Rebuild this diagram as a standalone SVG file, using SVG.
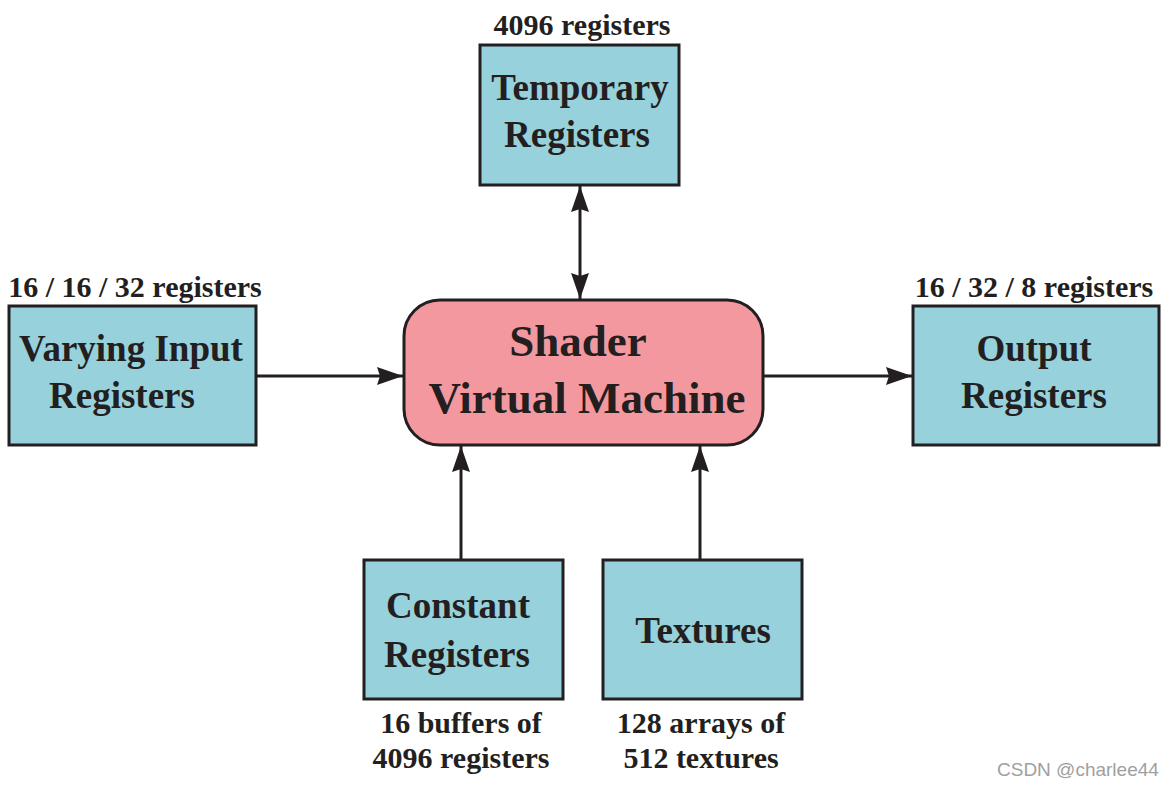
<svg xmlns="http://www.w3.org/2000/svg" width="1172" height="785" viewBox="0 0 1172 785">
<defs>
<marker id="ah" viewBox="0 0 26 18" refX="26" refY="9" markerWidth="26" markerHeight="18" markerUnits="userSpaceOnUse" orient="auto-start-reverse">
<path d="M0,0 L26,9 L0,18 L3,9 Z" fill="#231f20"/>
</marker>
<style>
.box{fill:#97d1db;stroke:#231f20;stroke-width:3}
.vm{fill:#f3989f;stroke:#231f20;stroke-width:3}
.t{font-family:"Liberation Serif","Times New Roman",serif;font-weight:bold;fill:#231f20;text-anchor:middle}
.big{font-size:37px}
.vmt{font-size:45px}
.lbl{font-size:30px}
.c{stroke:#231f20;stroke-width:3;fill:none}
</style>
</defs>
<rect width="1172" height="785" fill="#ffffff"/>
<g id="connectors">
<line class="c" x1="580" y1="186" x2="580" y2="299" marker-start="url(#ah)" marker-end="url(#ah)"/>
<line class="c" x1="257" y1="376" x2="403" y2="376" marker-end="url(#ah)"/>
<line class="c" x1="764" y1="376" x2="912" y2="376" marker-end="url(#ah)"/>
<line class="c" x1="461" y1="559" x2="461" y2="446" marker-end="url(#ah)"/>
<line class="c" x1="700" y1="559" x2="700" y2="446" marker-end="url(#ah)"/>
</g>
<g id="temporary">
<text class="t lbl" x="582" y="35">4096 registers</text>
<rect class="box" x="480" y="45" width="199" height="140"/>
<text class="t big" x="580" y="100">Temporary</text>
<text class="t big" x="577" y="147">Registers</text>
</g>
<g id="shader">
<rect class="vm" x="404" y="300" width="359" height="145" rx="36" ry="36"/>
<text class="t vmt" x="578" y="356">Shader</text>
<text class="t vmt" x="587" y="413">Virtual Machine</text>
</g>
<g id="varying">
<text class="t lbl" x="135" y="297">16 / 16 / 32 registers</text>
<rect class="box" x="9" y="306" width="247" height="139"/>
<text class="t big" x="131" y="361">Varying Input</text>
<text class="t big" x="122" y="408">Registers</text>
</g>
<g id="output">
<text class="t lbl" x="1034" y="297">16 / 32 / 8 registers</text>
<rect class="box" x="913" y="306" width="246" height="139"/>
<text class="t big" x="1034" y="361">Output</text>
<text class="t big" x="1034" y="408">Registers</text>
</g>
<g id="constant">
<rect class="box" x="364" y="560" width="199" height="139"/>
<text class="t big" x="458" y="618">Constant</text>
<text class="t big" x="457" y="667">Registers</text>
<text class="t lbl" x="461" y="733">16 buffers of</text>
<text class="t lbl" x="461" y="768">4096 registers</text>
</g>
<g id="textures">
<rect class="box" x="603" y="560" width="199" height="139"/>
<text class="t big" x="703" y="643">Textures</text>
<text class="t lbl" x="701" y="733">128 arrays of</text>
<text class="t lbl" x="701" y="768">512 textures</text>
</g>
<text x="997" y="776" font-family="Liberation Sans, Arial, sans-serif" font-size="19" fill="#a0a0a0">CSDN @charlee44</text>
</svg>
